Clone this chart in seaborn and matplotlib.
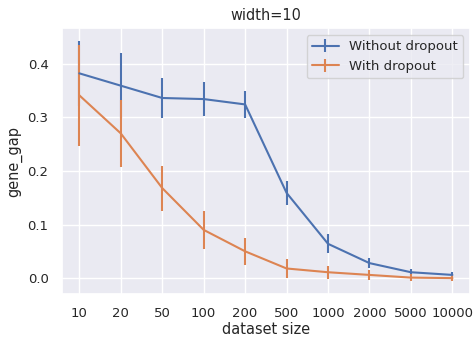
import matplotlib
matplotlib.use("Agg")
import matplotlib.pyplot as plt
import seaborn as sns
import numpy as np

sizes = ["10", "20", "50", "100", "200", "500", "1000", "2000", "5000", "10000"]
no_dropout = [0.382, 0.359, 0.336, 0.334, 0.324, 0.159, 0.064, 0.028, 0.011, 0.006]
no_dropout_err = [0.06, 0.06, 0.037, 0.031, 0.025, 0.022, 0.018, 0.01, 0.006, 0.005]
dropout = [0.341, 0.270, 0.168, 0.090, 0.050, 0.018, 0.011, 0.006, 0.001, 0.000]
dropout_err = [0.094, 0.063, 0.042, 0.036, 0.025, 0.018, 0.012, 0.009, 0.006, 0.005]

sns.set_theme(style="darkgrid", font_scale=0.87)
fig, ax = plt.subplots(figsize=(4.76, 3.38), dpi=100)
x = np.arange(len(sizes))
ax.errorbar(x, no_dropout, yerr=no_dropout_err, label="Without dropout", lw=1.5)
ax.errorbar(x, dropout, yerr=dropout_err, label="With dropout", lw=1.5)
ax.set_xticks(x)
ax.set_xticklabels(sizes)
ax.set_xlim(-0.425, 9.425)
ax.set_ylim(-0.0296, 0.466)
ax.set_xlabel("dataset size", labelpad=1.5)
ax.set_ylabel("gene_gap")
ax.set_title("width=10")
ax.legend(loc="upper right")
fig.subplots_adjust(left=61.7/476, right=470/476, top=1-28.3/338, bottom=1-294/338)
fig.savefig("out.png", dpi=100)
